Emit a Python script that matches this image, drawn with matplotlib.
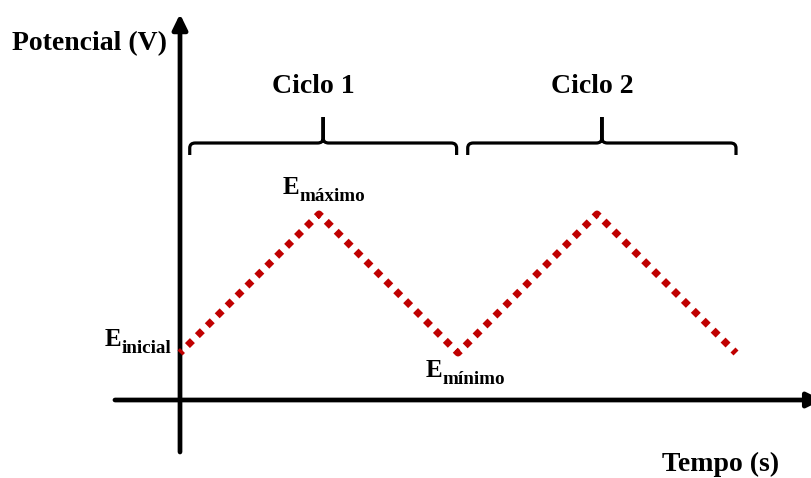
import matplotlib
matplotlib.use("Agg")
import matplotlib.pyplot as plt
from matplotlib.path import Path
from matplotlib.patches import PathPatch

# ---- data ----
tiempo = [0, 1, 2, 3, 4]                 # s (arbitrary units)
potencial = [0.47, 1.86, 0.47, 1.86, 0.47]  # V (arbitrary units)
ciclos = ["Ciclo 1", "Ciclo 2"]
ciclo_inicio = [0.07, 2.07]
ciclo_fin = [1.99, 4.00]
etiquetas_E = ["inicial", "máximo", "mínimo"]

FONT = "Liberation Serif"
RED = "#C00000"

fig = plt.figure(figsize=(8.11, 4.78), dpi=100)
ax = fig.add_axes([0, 0, 1, 1])
ax.set_xlim(-180 / 139, 631 / 139)
ax.set_ylim(-0.78, 4.0)
ax.axis("off")

# axes with arrows
ax.annotate("", xy=(0, 3.86), xytext=(0, -0.52),
            arrowprops=dict(arrowstyle="-|>,head_length=0.45,head_width=0.22",
                            lw=3.4, color="black", mutation_scale=20,
                            shrinkA=0, shrinkB=0), annotation_clip=False)
ax.annotate("", xy=(4.62, 0), xytext=(-0.468, 0),
            arrowprops=dict(arrowstyle="-|>,head_length=0.45,head_width=0.22",
                            lw=3.4, color="black", mutation_scale=20,
                            shrinkA=0, shrinkB=0), annotation_clip=False)

# triangular potential wave (dotted)
ax.plot(tiempo, potencial, color=RED, lw=5.05,
        linestyle=(0.5, (1.0, 1.0)), dash_capstyle="butt",
        solid_capstyle="butt", zorder=3)

# brackets
def bracket(x0, x1, yb=2.45, yh=2.57, ytop=2.83, rx=0.04, ry=0.05):
    xc = (x0 + x1) / 2
    verts, codes = [], []
    for xe, s in ((x0, 1), (x1, -1)):
        verts += [(xe, yb), (xe, yh - ry), (xe, yh), (xe + s * rx, yh),
                  (xc - s * rx, yh), (xc, yh), (xc, yh + ry), (xc, ytop)]
        codes += [Path.MOVETO, Path.LINETO, Path.CURVE3, Path.CURVE3,
                  Path.LINETO, Path.CURVE3, Path.CURVE3, Path.LINETO]
    p = PathPatch(Path(verts, codes), fill=False, lw=2.3, color="black",
                  capstyle="butt", joinstyle="round")
    ax.add_patch(p)
    return xc

for name, a, b in zip(ciclos, ciclo_inicio, ciclo_fin):
    xc = bracket(a, b)
    ax.text(xc - 0.07, 3.07, name, fontsize=20, fontweight="bold",
            family=FONT, ha="center", va="baseline")

# axis labels
ax.text(-1.209, 3.50, "Potencial (V)", fontsize=20, fontweight="bold",
        family=FONT, ha="left", va="baseline")
ax.text(3.468, -0.71, "Tempo (s)", fontsize=20, fontweight="bold",
        family=FONT, ha="left", va="baseline")

# E labels
e_pos = [(-0.54, 0.54), (0.741, 2.06), (1.770, 0.23)]
for sub, (x, y) in zip(etiquetas_E, e_pos):
    et = ax.text(x, y, "E", fontsize=18, fontweight="bold", family=FONT,
                 ha="left", va="baseline")
    ax.annotate(sub, xy=(1, y), xycoords=(et, "data"),
                xytext=(0, -7), textcoords="offset pixels",
                fontsize=13.8, fontweight="bold", family=FONT,
                ha="left", va="baseline", annotation_clip=False)

fig.savefig("out.png", dpi=100)
